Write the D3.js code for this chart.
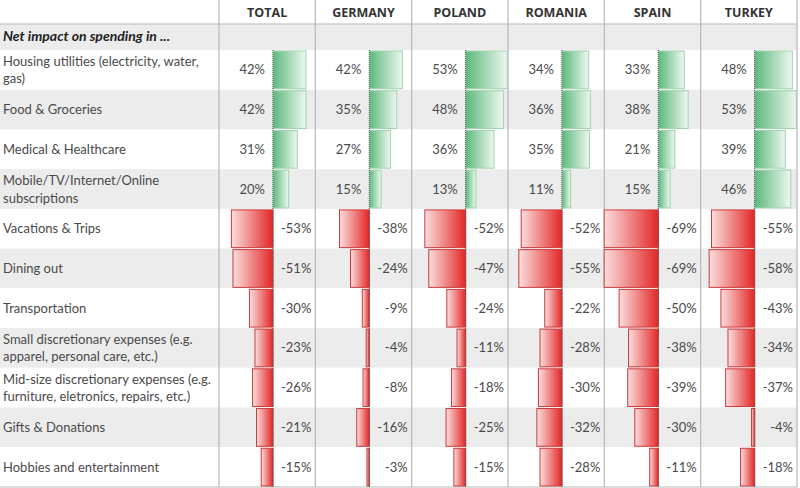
<!DOCTYPE html>
<html>
<head>
<meta charset="utf-8">
<script src="https://cdn.jsdelivr.net/npm/d3@7"></script>
<style>
  body { margin: 0; background: #fff; }
  text { font-family: Lato, "Open Sans", sans-serif; fill: #4a4a4a; }
</style>
</head>
<body>
<div id="chart"></div>
<script>
// Rows of the table (\n marks a line break in the label)
const categories = [
    "Housing utilities (electricity, water,\ngas)",
    "Food & Groceries",
    "Medical & Healthcare",
    "Mobile/TV/Internet/Online\nsubscriptions",
    "Vacations & Trips",
    "Dining out",
    "Transportation",
    "Small discretionary expenses (e.g.\napparel, personal care, etc.)",
    "Mid-size discretionary expenses (e.g.\nfurniture, eletronics, repairs, etc.)",
    "Gifts & Donations",
    "Hobbies and entertainment"
];

const countries = ["TOTAL", "GERMANY", "POLAND", "ROMANIA", "SPAIN", "TURKEY"];

// Net impact in %, one array per column
const total   = [42, 42, 31, 20, -53, -51, -30, -23, -26, -21, -15];
const germany = [42, 35, 27, 15, -38, -24, -9, -4, -8, -16, -3];
const poland  = [53, 48, 36, 13, -52, -47, -24, -11, -18, -25, -15];
const romania = [34, 36, 35, 11, -52, -55, -22, -28, -30, -32, -28];
const spain   = [33, 38, 21, 15, -69, -69, -50, -38, -39, -30, -11];
const turkey  = [48, 53, 39, 46, -55, -58, -43, -34, -37, -4, -18];

const seriesValues = [total, germany, poland, romania, spain, turkey];

const width = 800, height = 488;
const headerH = 24, subH = 26;
const tableLeft = 219, tableRight = 797, tableBottom = 487;

const svg = d3.select("#chart").append("svg")
    .attr("width", width)
    .attr("height", height);

// Gradients: dark next to the axis, fading outward
const defs = svg.append("defs");
const gGreen = defs.append("linearGradient").attr("id", "gradGreen")
    .attr("x1", "0%").attr("x2", "100%").attr("y1", "0%").attr("y2", "0%");
gGreen.append("stop").attr("offset", "0%").attr("stop-color", "#5cb87c");
gGreen.append("stop").attr("offset", "100%").attr("stop-color", "#eef8f0");
const gRed = defs.append("linearGradient").attr("id", "gradRed")
    .attr("x1", "0%").attr("x2", "100%").attr("y1", "0%").attr("y2", "0%");
gRed.append("stop").attr("offset", "0%").attr("stop-color", "#fbdede");
gRed.append("stop").attr("offset", "100%").attr("stop-color", "#e32626");

// Scales
const col = d3.scaleBand()
    .domain(countries)
    .range([tableLeft, tableRight]);

const row = d3.scaleBand()
    .domain(categories)
    .range([headerH + subH, tableBottom]);

// bar length in px per % value
const len = d3.scaleLinear().domain([0, 100]).range([0, 78.5]);
const axisOffset = 54;

// Row shading
svg.append("rect")
    .attr("x", 0).attr("y", headerH)
    .attr("width", tableRight).attr("height", subH)
    .attr("fill", "#ececec");

svg.selectAll(".row-bg")
    .data(categories)
    .enter().append("rect")
    .attr("class", "row-bg")
    .attr("x", 0)
    .attr("y", d => row(d))
    .attr("width", tableRight)
    .attr("height", row.bandwidth())
    .attr("fill", (d, i) => i % 2 ? "#ececec" : "#ffffff");

// Grid lines
svg.append("line")
    .attr("x1", 0).attr("x2", tableRight)
    .attr("y1", headerH).attr("y2", headerH)
    .attr("stroke", "#b8b8b8").attr("stroke-width", 1.2);
svg.append("line")
    .attr("x1", 0).attr("x2", tableRight)
    .attr("y1", tableBottom).attr("y2", tableBottom)
    .attr("stroke", "#b8b8b8").attr("stroke-width", 1.2);

svg.selectAll(".col-line")
    .data(countries.concat(["end"]))
    .enter().append("line")
    .attr("class", "col-line")
    .attr("x1", d => d === "end" ? tableRight : col(d))
    .attr("x2", d => d === "end" ? tableRight : col(d))
    .attr("y1", 0).attr("y2", tableBottom)
    .attr("stroke", "#b8b8b8").attr("stroke-width", 1.2);

// Column headers
svg.selectAll(".col-title")
    .data(countries)
    .enter().append("text")
    .attr("class", "col-title")
    .attr("x", d => col(d) + col.bandwidth() / 2)
    .attr("y", 17)
    .attr("text-anchor", "middle")
    .style("font-family", "'Open Sans', sans-serif")
    .style("font-weight", "bold")
    .style("font-size", "12.5px")
    .style("fill", "#333")
    .text(d => d);

svg.append("text")
    .attr("x", 3)
    .attr("y", headerH + 17)
    .style("font-weight", "bold")
    .style("font-style", "italic")
    .style("font-size", "14px")
    .style("fill", "#222")
    .text("Net impact on spending in ...");

// Row labels
const labels = svg.selectAll(".row-label")
    .data(categories)
    .enter().append("text")
    .attr("class", "row-label")
    .style("font-size", "13px")
    .attr("x", 3)
    .attr("y", d => {
        const lines = d.split("\n").length;
        return row(d) + row.bandwidth() / 2 + 4.5 - (lines - 1) * 8.5;
    });

labels.selectAll("tspan")
    .data(d => d.split("\n"))
    .enter().append("tspan")
    .attr("x", 3)
    .attr("dy", (d, i) => i ? 17.5 : 0)
    .text(d => d);

// Bars and values per column
countries.forEach((c, ci) => {
    const values = seriesValues[ci];
    const axisX = col(c) + axisOffset;
    const g = svg.append("g").attr("class", "column");

    g.selectAll(".bar")
        .data(values)
        .enter().append("rect")
        .attr("class", "bar")
        .attr("x", d => d >= 0 ? axisX : axisX - len(-d))
        .attr("y", (d, i) => row(categories[i]) + 1)
        .attr("width", d => len(Math.abs(d)))
        .attr("height", row.bandwidth() - 2)
        .attr("fill", d => d >= 0 ? "url(#gradGreen)" : "url(#gradRed)")
        .attr("stroke", d => d >= 0 ? "#9fd3ad" : "#cc3a3a")
        .attr("stroke-width", 1);

    g.append("line")
        .attr("x1", axisX).attr("x2", axisX)
        .attr("y1", headerH + subH).attr("y2", tableBottom)
        .attr("stroke", "#555")
        .attr("stroke-width", 1)
        .attr("stroke-dasharray", "1,1");

    g.selectAll(".val")
        .data(values)
        .enter().append("text")
        .attr("class", "val")
        .style("font-size", "13px")
        .attr("text-anchor", "end")
        .attr("x", d => d >= 0 ? axisX - 8 : col(c) + col.bandwidth() - 4)
        .attr("y", (d, i) => row(categories[i]) + row.bandwidth() / 2 + 4.5)
        .text(d => d + "%");
});
</script>
</body>
</html>
